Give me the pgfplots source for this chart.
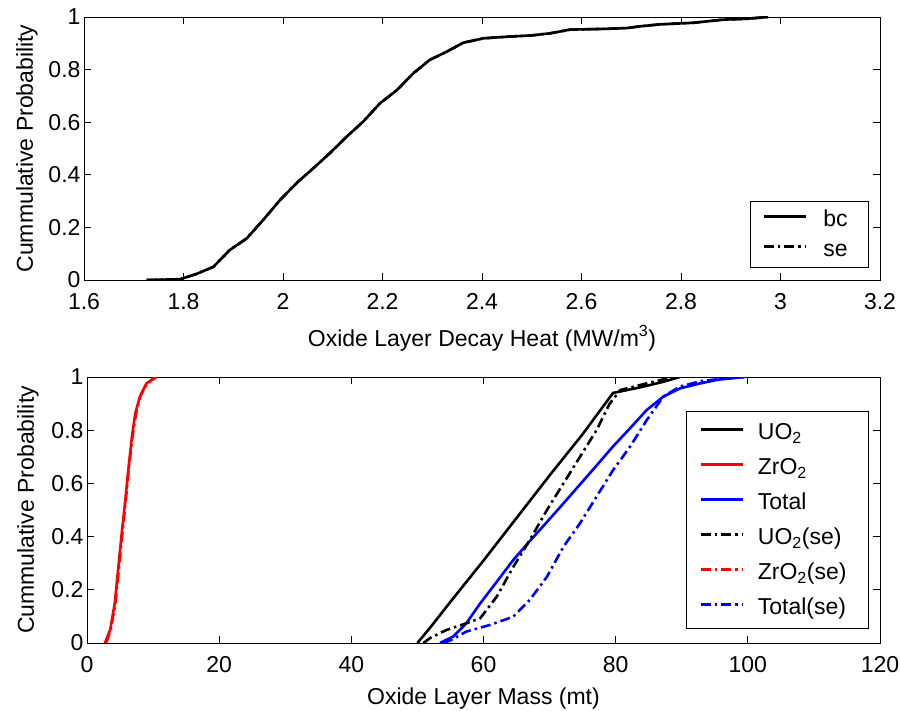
\documentclass[border=0pt]{standalone}
\usepackage{fontspec}
\setmainfont{Liberation Sans}
\usepackage{pgfplots}
\pgfplotsset{compat=1.18}
\newcommand\ff{\fontsize{23}{27}\selectfont}
\newcommand\e[1]{#1\hspace*{9pt}}
\pgfplotsset{
  mystyle/.style={
    scale only axis,
    axis line style={line width=0.9pt},
    every tick/.style={line width=0.9pt, black},
    major tick length=7pt,
    tick align=inside,
    /pgf/number format/assume math mode=true,
    tick label style={font=\ff},
    label style={font=\ff},
    xticklabel style={anchor=base, yshift=-29pt},
    ymin=0, ymax=1,
    ytick={0,0.2,0.4,0.6,0.8,1},
    ylabel={Cummulative Probability},
    legend cell align=left,
    legend image code/.code={\draw[##1] (0pt,3pt) -- (42pt,3pt);},
  },
  dd/.style={dash pattern=on 10pt off 4pt on 2.5pt off 4pt},
  cv/.style={line width=2.6pt},
}
\begin{document}
\begin{tikzpicture}
\useasboundingbox (0,0) rectangle (901pt,-711pt);
% ---------- top axis ----------
\begin{axis}[mystyle,
  at={(84pt,-280pt)}, anchor=south west,
  width=796pt, height=263pt,
  xmin=1.6, xmax=3.2,
  xtick={1.6,1.8,2,2.2,2.4,2.6,2.8,3,3.2},
  xlabel={Oxide Layer Decay Heat (MW/m\textsuperscript{3})},
  xlabel style={at={(axis description cs:0.5,0)}, anchor=base, yshift=-66pt},
  ylabel style={at={(axis description cs:-0.0641,0.5)}, anchor=base},
  legend style={at={(axis description cs:1,0)}, anchor=south east,
    xshift=-11pt, yshift=12pt, font=\ff, draw=black, line width=0.9pt,
    inner xsep=12pt, inner ysep=3pt,
    /tikz/every odd column/.append style={column sep=16pt},
    nodes={inner xsep=0pt, inner ysep=4.5pt, text height=17pt, text depth=4pt}},
]
\addplot[black, cv] coordinates {
(1.726,0) (1.793,0.003) (1.826,0.023) (1.860,0.05) (1.893,0.114) (1.927,0.158)
(1.960,0.228) (1.994,0.304) (2.027,0.368) (2.061,0.425) (2.094,0.482) (2.128,0.545)
(2.161,0.602) (2.195,0.672) (2.229,0.722) (2.262,0.786) (2.295,0.837) (2.329,0.868)
(2.362,0.902) (2.403,0.919) (2.45,0.925) (2.5,0.93) (2.537,0.938) (2.577,0.952)
(2.65,0.955) (2.691,0.958) (2.72,0.965) (2.758,0.972) (2.825,0.978) (2.885,0.99)
(2.93,0.993) (2.975,1.0)};
\addplot[black, cv, dd] coordinates {
(1.726,0) (1.793,0.003) (1.826,0.023) (1.860,0.05) (1.893,0.114) (1.927,0.158)
(1.960,0.228) (1.994,0.304) (2.027,0.368) (2.061,0.425) (2.094,0.482) (2.128,0.545)
(2.161,0.602) (2.195,0.672) (2.229,0.722) (2.262,0.786) (2.295,0.837) (2.329,0.868)
(2.362,0.902) (2.403,0.919) (2.45,0.925) (2.5,0.93) (2.537,0.938) (2.577,0.952)
(2.65,0.955) (2.691,0.958) (2.72,0.965) (2.758,0.972) (2.825,0.978) (2.885,0.99)
(2.93,0.993) (2.975,1.0)};
\legend{\e{bc},\e{se}}
\end{axis}
% ---------- bottom axis ----------
\begin{axis}[mystyle,
  at={(87pt,-643pt)}, anchor=south west,
  width=793pt, height=266pt,
  xmin=0, xmax=120,
  xtick={0,20,40,60,80,100,120},
  xlabel={Oxide Layer Mass (mt)},
  xlabel style={at={(axis description cs:0.5,0)}, anchor=base, yshift=-61pt},
  ylabel style={at={(axis description cs:-0.067,0.5)}, anchor=base},
  legend style={at={(axis description cs:1,0)}, anchor=south east,
    xshift=-11pt, yshift=14pt, font=\ff, draw=black, line width=0.9pt,
    inner xsep=13pt, inner ysep=3.5pt,
    /tikz/every odd column/.append style={column sep=14pt},
    nodes={inner xsep=0pt, inner ysep=4.5pt, text height=20pt, text depth=6pt}},
]
\addplot[black, cv] coordinates {
(50,0) (52,0.06) (55,0.155) (60,0.31) (65,0.47) (70,0.63) (75,0.785) (79.6,0.94)
(83.7,0.961) (87.2,0.982) (89.7,1)};
\addplot[red, cv] coordinates {
(2.7,0) (3.5,0.049) (4.2,0.149) (4.7,0.274) (5.2,0.4) (5.75,0.525) (6.25,0.65)
(6.8,0.776) (7.3,0.863) (8.0,0.926) (9.0,0.976) (10.5,1)};
\addplot[blue, cv] coordinates {
(53.4,0) (55.4,0.024) (57.4,0.074) (59.5,0.149) (62.0,0.230) (64.5,0.312)
(67.0,0.383) (69.6,0.455) (72.1,0.525) (74.6,0.596) (77.1,0.667) (79.6,0.739)
(82.2,0.808) (84.7,0.876) (87.2,0.926) (89.7,0.957) (92.8,0.976) (95.5,0.99) (99.5,1)};
\addplot[black, cv, dd] coordinates {
(50.9,0) (52,0.02) (54.4,0.049) (57.4,0.074) (59.5,0.093) (62.0,0.174) (64.5,0.286)
(67.0,0.387) (69.6,0.5) (72.1,0.6) (74.6,0.7) (77.1,0.8) (79.1,0.9) (80.7,0.951)
(84.7,0.976) (88.7,1)};
\addplot[red, cv, dd] coordinates {
(2.9,0) (3.6,0.05) (4.3,0.15) (4.8,0.27) (5.3,0.4) (5.8,0.52) (6.3,0.65)
(6.85,0.77) (7.4,0.86) (8.1,0.93) (9.1,0.975) (10.3,1)};
\addplot[blue, cv, dd] coordinates {
(53.9,0) (55,0.01) (57.4,0.043) (61.0,0.068) (64.5,0.099) (67.0,0.162) (69.6,0.249)
(72.1,0.362) (74.6,0.45) (77.1,0.55) (79.6,0.65) (82.2,0.739) (84.7,0.838)
(87.2,0.926) (89.7,0.964) (93,0.985) (97,0.996) (100,1)};
\legend{\e{UO\textsubscript{2}},\e{ZrO\textsubscript{2}},\e{Total},
  \e{UO\textsubscript{2}(se)},\e{ZrO\textsubscript{2}(se)},\e{Total(se)}}
\end{axis}
\end{tikzpicture}
\end{document}
